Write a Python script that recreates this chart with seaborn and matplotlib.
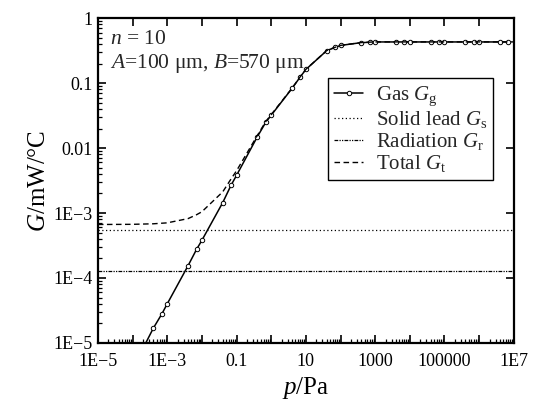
import numpy as np
import pandas as pd
import matplotlib
matplotlib.use("Agg")
import matplotlib.pyplot as plt
import matplotlib.ticker as mticker
import seaborn as sns

# pressure points (Pa) and conductances (mW/°C)
pressao = [1e-4, 4e-4, 7e-4, 1e-3, 4e-3, 7e-3, 1e-2, 4e-2, 7e-2, 0.1, 0.4, 0.7, 1,
           4, 7, 10, 40, 70, 100, 400, 700, 1000, 4e3, 7e3, 1e4, 4e4, 7e4, 1e5,
           4e5, 7e5, 1e6, 4e6, 7e6]
gas = [4.0e-6, 1.7e-5, 2.8e-5, 4.0e-5, 1.55e-4, 2.75e-4, 3.8e-4, 1.45e-3, 2.7e-3,
       3.8e-3, 1.5e-2, 2.5e-2, 3.2e-2, 8.3e-2, 0.126, 0.162, 0.316, 0.355, 0.38,
       0.42, 0.425, 0.43, 0.43, 0.43, 0.43, 0.43, 0.43, 0.43, 0.43, 0.43, 0.43,
       0.43, 0.43]

pressao_linha = [1e-5, 1e7]
solido = [5.4e-4, 5.4e-4]
radiacao = [1.26e-4, 1.26e-4]

pressao_total = [1e-5, 1e-4, 4e-4, 1e-3, 4e-3, 7e-3, 1e-2, 4e-2, 7e-2, 0.1, 0.4,
                 0.7, 1, 4, 7, 10, 40, 70, 100, 400, 1000, 1e7]
total = [6.66e-4, 6.70e-4, 6.83e-4, 7.06e-4, 8.21e-4, 9.41e-4, 1.046e-3, 2.12e-3,
         3.37e-3, 4.47e-3, 1.57e-2, 2.57e-2, 3.27e-2, 8.37e-2, 0.1267, 0.1627,
         0.3167, 0.3557, 0.3807, 0.4207, 0.4307, 0.4307]

xticks = [1e-5, 1e-4, 1e-3, 1e-2, 0.1, 1, 10, 100, 1000, 1e4, 1e5, 1e6, 1e7]
xtick_labels = ["1E\u22125", "", "1E\u22123", "", "0.1", "", "10", "", "1000", "",
                "100000", "", "1E7"]
yticks = [1e-5, 1e-4, 1e-3, 1e-2, 0.1, 1]
ytick_labels = ["1E\u22125", "1E\u22124", "1E\u22123", "0.01", "0.1", "1"]

sns.set_style("ticks")
plt.rcParams['font.family'] = ['Liberation Serif', 'DejaVu Serif']
plt.rcParams['mathtext.fontset'] = 'custom'
plt.rcParams['mathtext.rm'] = 'Liberation Serif'
plt.rcParams['mathtext.it'] = 'Liberation Serif:italic'
plt.rcParams['axes.edgecolor'] = 'black'
plt.rcParams['axes.linewidth'] = 1.6

fig = plt.figure(figsize=(5.38, 4.03), dpi=100)
ax = fig.add_axes([0.182, 0.149, 0.773, 0.806])

df_gas = pd.DataFrame({'p': pressao, 'G': gas})
df_tot = pd.DataFrame({'p': pressao_total, 'G': total})

sns.lineplot(data=df_gas, x='p', y='G', ax=ax, color='black', linewidth=1.1,
             marker='o', markersize=3.2, markerfacecolor='white',
             markeredgecolor='black', markeredgewidth=0.7,
             label=r'Gas $G_\mathrm{g}$')
sns.lineplot(x=pressao_linha, y=solido, ax=ax, color='black', linewidth=0.9,
             linestyle=(0, (1, 2)), label=r'Solid lead $G_\mathrm{s}$')
sns.lineplot(x=pressao_linha, y=radiacao, ax=ax, color='black', linewidth=0.9,
             linestyle=(0, (3, 1, 1, 1, 1, 1)), label=r'Radiation $G_\mathrm{r}$')
sns.lineplot(data=df_tot, x='p', y='G', ax=ax, color='black', linewidth=1.0,
             linestyle=(0, (4, 2.5)), label=r'Total $G_\mathrm{t}$')

ax.set_xscale('log')
ax.set_yscale('log')
ax.set_xlim(1e-5, 1e7)
ax.set_ylim(1e-5, 1)

ax.set_xticks(xticks)
ax.set_xticklabels(xtick_labels)
ax.set_yticks(yticks)
ax.set_yticklabels(ytick_labels)
ax.xaxis.set_minor_locator(mticker.LogLocator(base=10, subs=np.arange(2, 10), numticks=200))
ax.yaxis.set_minor_locator(mticker.LogLocator(base=10, subs=np.arange(2, 10), numticks=200))
ax.xaxis.set_minor_formatter(mticker.NullFormatter())
ax.yaxis.set_minor_formatter(mticker.NullFormatter())

ax.tick_params(which='major', direction='in', length=6, width=1.2, labelsize=13,
               top=True, right=True, color='black', labelcolor='black', pad=4)
ax.tick_params(axis='x', which='major', pad=7)
ax.tick_params(which='minor', direction='in', length=3, width=0.9,
               top=False, right=False, color='black')

ax.set_xlabel(r'$p$/Pa', fontsize=18, color='black', labelpad=4)
ax.set_ylabel(r'$G$/mW/°C', fontsize=18, color='black', labelpad=2)

ax.text(0.03, 0.965, r'$n$ = 10', transform=ax.transAxes, fontsize=15.5,
        va='top', ha='left')
ax.text(0.03, 0.895, r'$A$=100 μm, $B$=570 μm', transform=ax.transAxes,
        fontsize=15.5, va='top', ha='left')

leg = ax.legend(loc='upper right', bbox_to_anchor=(0.951, 0.815), fontsize=15,
                frameon=True, fancybox=False, handlelength=1.4, handletextpad=0.6,
                borderpad=0.3, labelspacing=0.05, borderaxespad=0)
leg.get_frame().set_edgecolor('black')
leg.get_frame().set_linewidth(1.0)
leg.get_frame().set_alpha(1)

fig.savefig('out.png', dpi=100)
